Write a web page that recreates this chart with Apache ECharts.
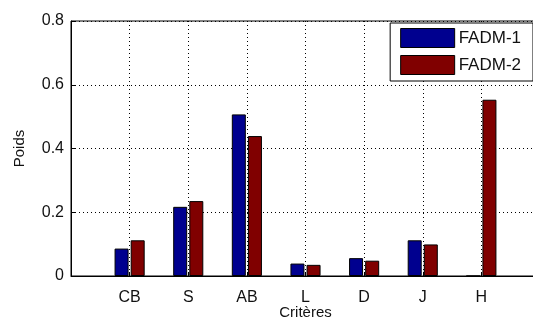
<!DOCTYPE html>
<html>
<head>
<meta charset="utf-8">
<script src="https://cdn.jsdelivr.net/npm/echarts@6/dist/echarts.min.js"></script>
<style>
  html, body { margin: 0; padding: 0; background: #fff; }
  #chart { width: 533px; height: 320px; }
</style>
</head>
<body>
<div id="chart"></div>
<script>
// data
const categories = ['CB', 'S', 'AB', 'L', 'D', 'J', 'H']
const fadm1 = [0.086, 0.217, 0.507, 0.039, 0.056, 0.112, 0]
const fadm2 = [0.112, 0.235, 0.439, 0.035, 0.048, 0.099, 0.553]
const yTicks = [0, 0.2, 0.4, 0.6, 0.8]

const font = "'Liberation Sans', Arial, sans-serif"
const dotted = { color: '#000', width: 1, type: [1, 3] }

// categories sit at x = 1..7 on a 0..8 axis (matlab style xlim), right edge is cut off
const toPoints = arr => arr.map((v, i) => [i + 1, v])

const chart = echarts.init(document.getElementById('chart'))
chart.setOption({
  animation: false,
  backgroundColor: '#fff',
  textStyle: { fontFamily: font },
  grid: {
    left: 71, top: 21, width: 469, height: 255,
    outerBoundsMode: 'none',
    show: true, borderColor: '#000', borderWidth: 1
  },
  legend: {
    orient: 'vertical',
    right: 0, top: 23,
    padding: [5, 12, 6, 10],
    icon: 'rect',
    itemWidth: 54, itemHeight: 19, itemGap: 7,
    backgroundColor: '#fff', borderColor: '#000', borderWidth: 1,
    textStyle: { fontFamily: font, fontSize: 17, color: '#111', padding: [0, 0, 0, -1] },
    itemStyle: { borderColor: '#000', borderWidth: 1 },
    data: ['FADM-1', 'FADM-2']
  },
  xAxis: {
    type: 'value', min: 0, max: 8, interval: 1,
    name: 'Critères', nameLocation: 'middle', nameGap: 29, nameMoveOverlap: false,
    nameTextStyle: { fontFamily: font, fontSize: 15, color: '#111' },
    axisLine: { show: true, onZero: false, lineStyle: { color: '#000' } },
    axisTick: { show: true, inside: true, length: 4, lineStyle: { color: '#000' } },
    axisLabel: {
      fontFamily: font, fontSize: 16, color: '#111', margin: 14,
      formatter: v => categories[v - 1] || ''
    },
    splitLine: { show: true, lineStyle: dotted }
  },
  yAxis: {
    type: 'value', min: 0, max: 0.8, interval: 0.2,
    name: 'Poids', nameLocation: 'middle', nameGap: 44, nameMoveOverlap: false,
    nameTextStyle: { fontFamily: font, fontSize: 15, color: '#111' },
    axisLine: { show: true, lineStyle: { color: '#000' } },
    axisTick: { show: true, inside: true, length: 4, lineStyle: { color: '#000' } },
    axisLabel: {
      fontFamily: font, fontSize: 16, color: '#111', margin: 7,
      formatter: v => yTicks.includes(+v.toFixed(1)) ? String(+v.toFixed(1)) : ''
    },
    splitLine: { show: true, lineStyle: dotted }
  },
  series: [
    {
      name: 'FADM-1', type: 'bar', data: toPoints(fadm1),
      barWidth: 14, barGap: '15%',
      itemStyle: { color: '#00008f', borderColor: '#000', borderWidth: 1 }
    },
    {
      name: 'FADM-2', type: 'bar', data: toPoints(fadm2),
      barWidth: 14, barGap: '15%',
      itemStyle: { color: '#800000', borderColor: '#000', borderWidth: 1 }
    }
  ]
})
</script>
</body>
</html>
